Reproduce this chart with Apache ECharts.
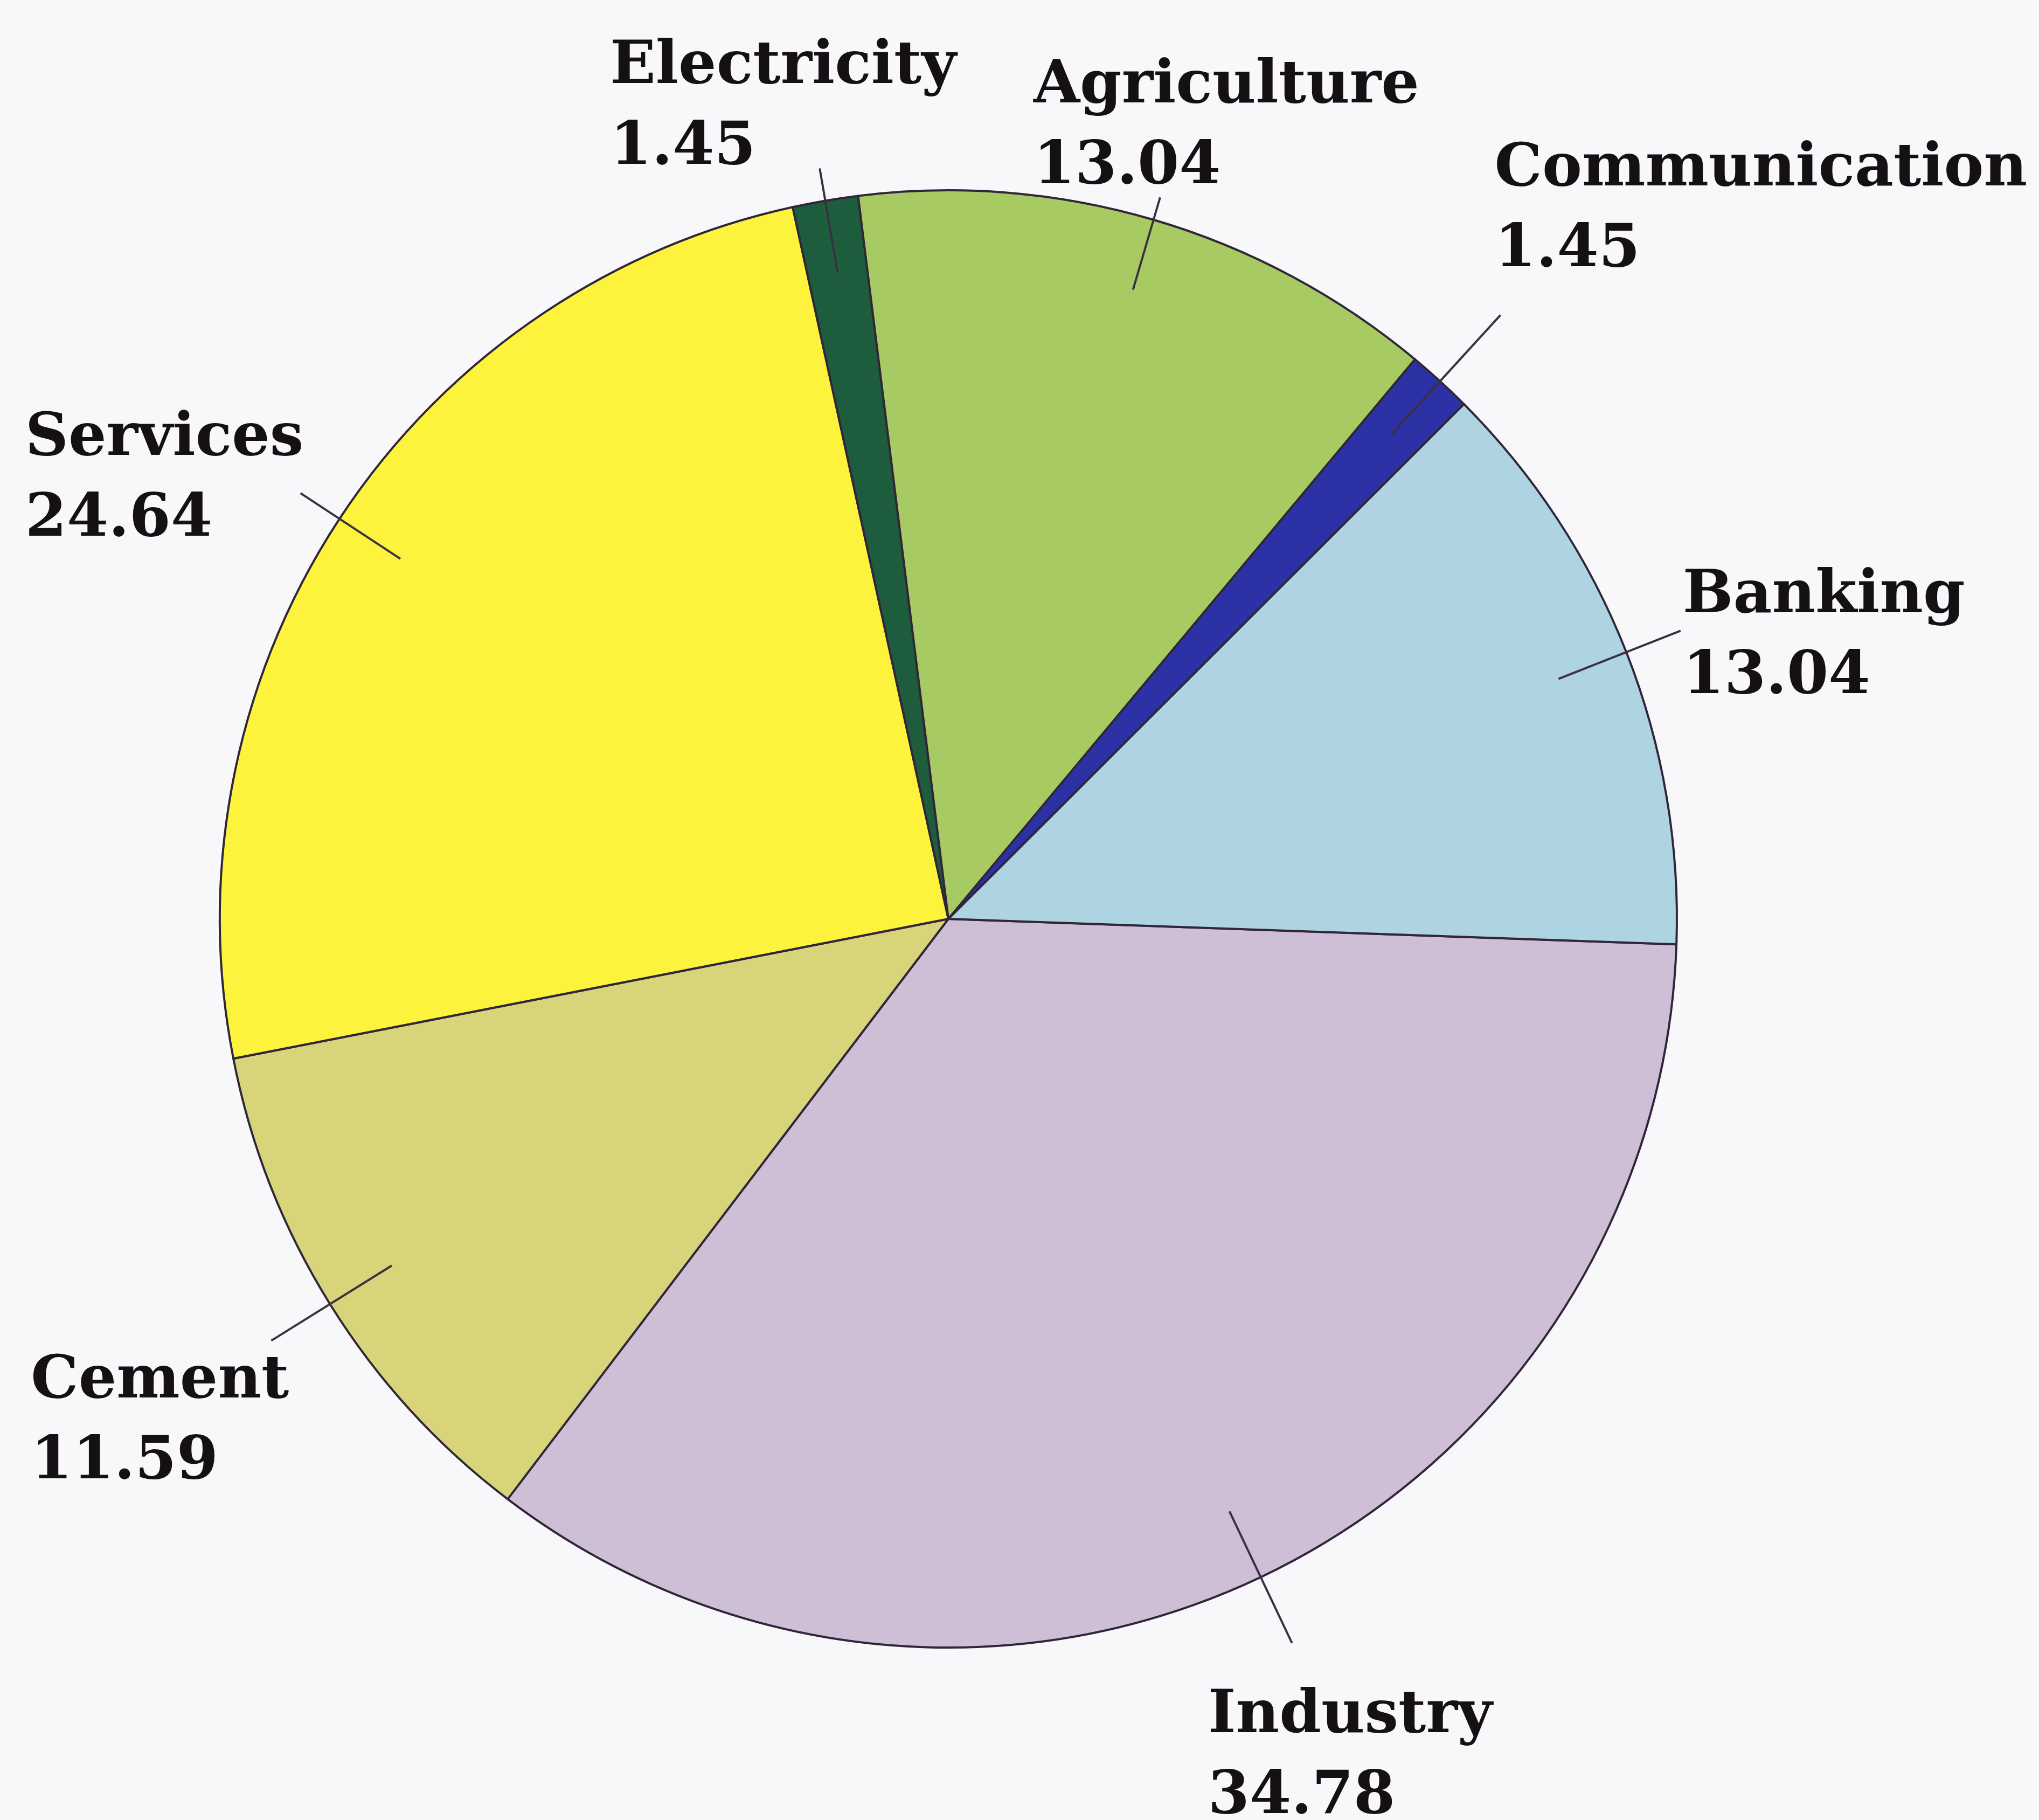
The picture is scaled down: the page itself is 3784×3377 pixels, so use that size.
<!DOCTYPE html>
<html>
<head>
<meta charset="utf-8">
<title>Sector shares</title>
<script src="https://cdn.jsdelivr.net/npm/echarts@6/dist/echarts.min.js"></script>
<style>
  html, body { margin: 0; padding: 0; background: #f8f8fb; }
  #chart { width: 3784px; height: 3377px; }
</style>
</head>
<body>
<div id="chart"></div>
<script>
// Sector names and their shares (%), in clockwise drawing order
const sectors = ['Industry', 'Cement', 'Services', 'Electricity', 'Agriculture', 'Communication', 'Banking'];
const shares = [34.78, 11.59, 24.64, 1.45, 13.04, 1.45, 13.04];
const sectorColors = ['#cfbfd6', '#d8d47a', '#fdf23c', '#1d5c3c', '#a7cb62', '#2d31a6', '#add4e0'];

// Leader line outer end, as a fraction of the pie radius (lines start inside the slice)
const leaderOuter = [1.10, 1.095, 1.064, 1.045, 1.032, 1.123, 1.08];
// Offset of each label block's top-left corner from its leader line end
const labelOffset = [[-156, 62], [-446, 2], [-511, -175], [-389, -262], [-235, -280], [-11, -344], [4, -138]];

const CX = 1760, CY = 1705, R = 1352, START_ANGLE = -2, LEADER_INNER = 0.9;

const total = shares.reduce((a, b) => a + b, 0);

function midAngle(i) {
  let before = 0;
  for (let k = 0; k < i; k++) before += shares[k];
  return (START_ANGLE - (before + shares[i] / 2) / total * 360) * Math.PI / 180;
}

const pieData = sectors.map((name, i) => ({ name: name, value: shares[i] }));

const chart = echarts.init(document.getElementById('chart'), null, { renderer: 'canvas' });

chart.setOption({
  backgroundColor: '#f8f8fb',
  animation: false,
  series: [
    // the coloured slices
    {
      type: 'pie',
      z: 2,
      center: [CX, CY],
      radius: R,
      startAngle: START_ANGLE,
      clockwise: true,
      silent: true,
      data: pieData.map((d, i) => ({ name: d.name, value: d.value, itemStyle: { color: sectorColors[i] } })),
      itemStyle: { borderColor: '#30263a', borderWidth: 4 },
      label: { show: false },
      labelLine: { show: false }
    },
    // transparent twin that carries the labels and leader lines above the slices
    {
      type: 'pie',
      z: 5,
      center: [CX, CY],
      radius: R,
      startAngle: START_ANGLE,
      clockwise: true,
      silent: true,
      avoidLabelOverlap: false,
      data: pieData,
      itemStyle: { color: 'rgba(0,0,0,0)', borderWidth: 0 },
      label: {
        show: true,
        position: 'outside',
        formatter: (p) => p.name + '\n' + p.value.toFixed(2),
        fontFamily: 'DejaVu Serif',
        fontWeight: 'bold',
        fontSize: 111,
        lineHeight: 150,
        color: '#141014'
      },
      labelLine: {
        show: true,
        length: 40,
        length2: 0,
        lineStyle: { color: '#3a3042', width: 4 }
      },
      labelLayout: function (p) {
        const i = p.dataIndex;
        const a = midAngle(i);
        const c = Math.cos(a), s = -Math.sin(a);
        const sx = CX + c * R * LEADER_INNER, sy = CY + s * R * LEADER_INNER;
        const ex = CX + c * R * leaderOuter[i], ey = CY + s * R * leaderOuter[i];
        return {
          x: ex + labelOffset[i][0],
          y: ey + labelOffset[i][1],
          align: 'left',
          verticalAlign: 'top',
          labelLinePoints: [[sx, sy], [ex, ey]]
        };
      }
    }
  ]
});
</script>
</body>
</html>
